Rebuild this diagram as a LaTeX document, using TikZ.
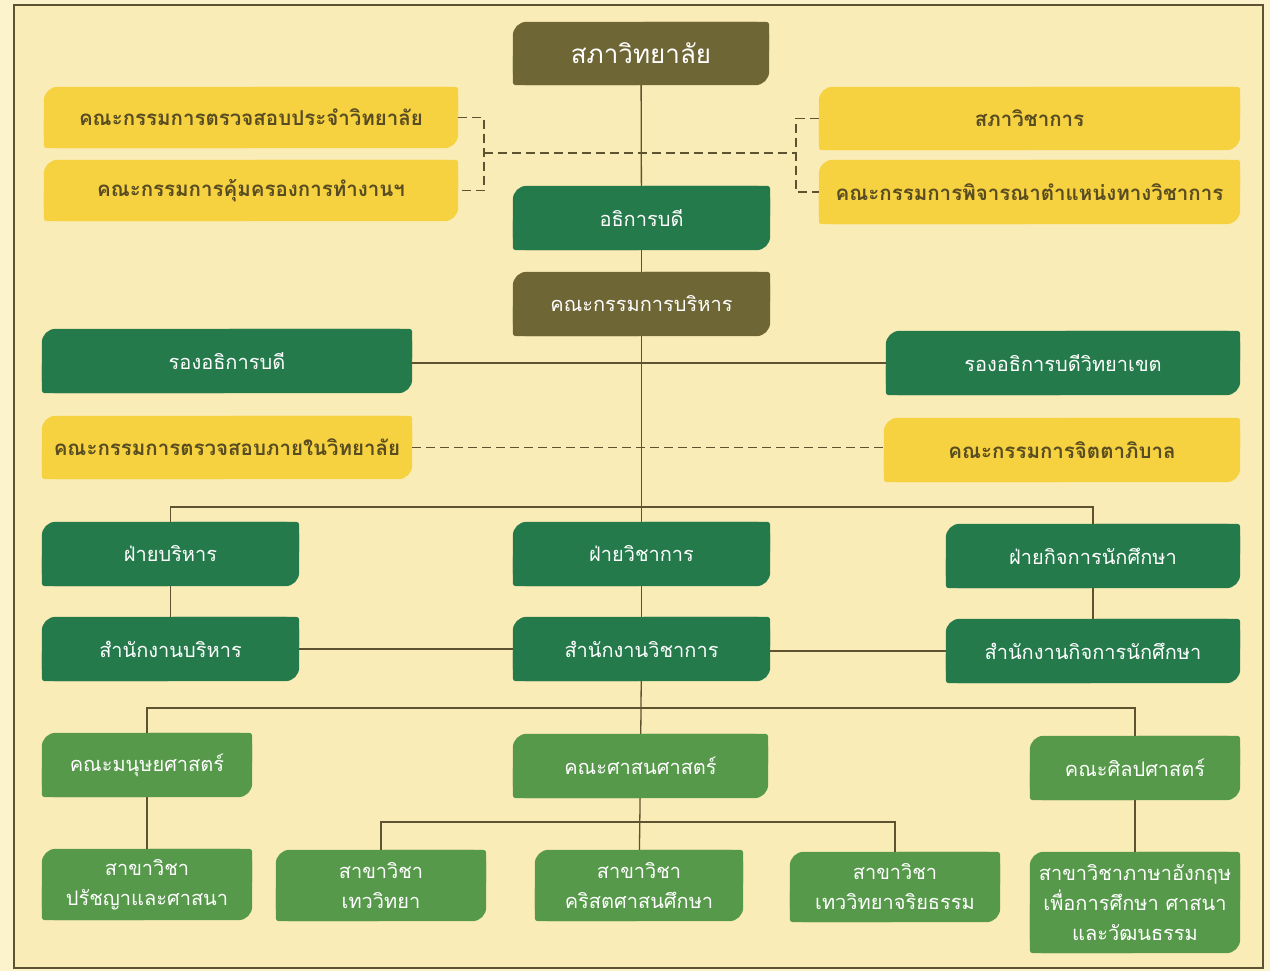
\documentclass[tikz,border=0pt]{standalone}
\usepackage{fontspec}
\newfontfamily\thai[Script=Thai]{Loma}
\usetikzlibrary{backgrounds}

\definecolor{paper}{RGB}{252,243,204}
\definecolor{cream}{RGB}{250,236,182}
\definecolor{frame}{RGB}{94,83,48}
\definecolor{olivebox}{RGB}{111,102,54}
\definecolor{darkgreen}{RGB}{36,122,75}
\definecolor{lightgreen}{RGB}{86,153,74}
\definecolor{yellowbox}{RGB}{246,209,64}
\definecolor{yellowtext}{RGB}{88,76,34}

\tikzset{
  box/.style={inner sep=0pt, minimum height=63pt, align=center, text=white,
    font=\thai\fontsize{20}{30}\selectfont},
  ybox/.style={box, text=yellowtext, font=\thai\bfseries\fontsize{20.5}{24}\selectfont},
  link/.style={draw=frame, line width=1.3pt},
  dlink/.style={link, line width=1.6pt, dash pattern=on 9pt off 5pt}
}

\newcommand\leaf[2]{%
  \fill[#2, rounded corners=14pt] (#1.south west) rectangle (#1.north east);
  \fill[#2, rounded corners=3pt] (#1.south west) rectangle (#1.center);
  \fill[#2, rounded corners=3pt] (#1.north east) rectangle (#1.center);}

\begin{document}
\begin{tikzpicture}[x=1pt,y=-1pt]
  \useasboundingbox (0,0) rectangle (1270,971);

  \node[box, minimum width=256pt, font=\thai\fontsize{26}{30}\selectfont] (council) at (641,53.5) {สภาวิทยาลัย};
  \node[ybox, minimum width=414pt, minimum height=61pt] (audit) at (251,117.5) {คณะกรรมการตรวจสอบประจำวิทยาลัย};
  \node[ybox, minimum width=414pt, minimum height=61pt] (protect) at (251,190.5) {คณะกรรมการคุ้มครองการทำงานฯ};
  \node[ybox, minimum width=421pt] (acadcouncil) at (1029.5,118.5) {สภาวิชาการ};
  \node[ybox, minimum width=421pt, minimum height=64pt] (rank) at (1029.5,192) {คณะกรรมการพิจารณาตำแหน่งทางวิชาการ};
  \node[box, minimum width=257pt, minimum height=64pt] (president) at (641.5,218) {อธิการบดี};
  \node[box, minimum width=257pt, minimum height=64pt] (exec) at (641.5,304) {คณะกรรมการบริหาร};

  \node[box, minimum width=370pt, minimum height=64pt] (vp) at (227,361) {รองอธิการบดี};
  \node[box, minimum width=354pt, minimum height=64pt] (vpcampus) at (1063,363) {รองอธิการบดีวิทยาเขต};
  \node[ybox, minimum width=370pt] (inaudit) at (227,447.5) {คณะกรรมการตรวจสอบภายในวิทยาลัย};
  \node[ybox, minimum width=356pt, minimum height=64pt] (pastoral) at (1062,450) {คณะกรรมการจิตตาภิบาล};

  \node[box, minimum width=257pt, minimum height=64pt] (admindiv) at (170.5,554) {ฝ่ายบริหาร};
  \node[box, minimum width=257pt, minimum height=64pt] (acaddiv) at (641.5,554) {ฝ่ายวิชาการ};
  \node[box, minimum width=294pt, minimum height=64pt] (studdiv) at (1093,556) {ฝ่ายกิจการนักศึกษา};
  \node[box, minimum width=257pt, minimum height=64pt] (adminoff) at (170.5,649) {สำนักงานบริหาร};
  \node[box, minimum width=257pt, minimum height=64pt] (acadoff) at (641.5,649) {สำนักงานวิชาการ};
  \node[box, minimum width=294pt, minimum height=64pt] (studoff) at (1093,651) {สำนักงานกิจการนักศึกษา};

  \node[box, minimum width=210pt, minimum height=64pt] (human) at (147,765) {คณะมนุษยศาสตร์};
  \node[box, minimum width=255pt, minimum height=64pt] (relig) at (640.5,766) {คณะศาสนศาสตร์};
  \node[box, minimum width=210pt, minimum height=64pt] (arts) at (1135,768) {คณะศิลปศาสตร์};
  \node[box, minimum width=210pt, minimum height=71pt] (philo) at (147,884.5) {สาขาวิชา\\ปรัชญาและศาสนา};
  \node[box, minimum width=210pt, minimum height=71pt] (theol) at (381,885.5) {สาขาวิชา\\เทววิทยา};
  \node[box, minimum width=208pt, minimum height=71pt] (christ) at (639,885.5) {สาขาวิชา\\คริสตศาสนศึกษา};
  \node[box, minimum width=210pt, minimum height=70pt] (ethics) at (895,887) {สาขาวิชา\\เทววิทยาจริยธรรม};
  \node[box, minimum width=210pt, minimum height=101pt] (english) at (1135,902.5) {สาขาวิชาภาษาอังกฤษ\\เพื่อการศึกษา ศาสนา\\และวัฒนธรรม};

  \begin{scope}[on background layer]
    \fill[paper] (0,0) rectangle (1270,971);
    \filldraw[fill=cream, draw=frame, line width=2.2pt] (14,5) rectangle (1263,968);
    \foreach \n/\c in {council/olivebox, exec/olivebox,
        audit/yellowbox, protect/yellowbox, acadcouncil/yellowbox, rank/yellowbox,
        inaudit/yellowbox, pastoral/yellowbox,
        president/darkgreen, vp/darkgreen, vpcampus/darkgreen,
        admindiv/darkgreen, acaddiv/darkgreen, studdiv/darkgreen,
        adminoff/darkgreen, acadoff/darkgreen, studoff/darkgreen,
        human/lightgreen, relig/lightgreen, arts/lightgreen, philo/lightgreen,
        theol/lightgreen, christ/lightgreen, ethics/lightgreen, english/lightgreen}
      {\leaf{\n}{\c}}
  \end{scope}

  \coordinate (lbrace) at (484,153);
  \coordinate (rbrace) at (796,153);
  \coordinate (divbus) at (641,507);
  \coordinate (facbus) at (641,708);
  \coordinate (subbus) at (641,822);

  \draw[link] (council) -- (president);
  \draw[link] (president) -- (exec);
  \draw[link] (exec) -- (acaddiv);
  \draw[link] (acaddiv) -- (acadoff);
  \draw[link] (acadoff) -- (relig);
  \draw[link] (relig) -- (christ);
  \draw[link] (vp.east |- vpcampus.west) -- (vpcampus.west);
  \draw[link] (admindiv.north) |- (divbus) -| (studdiv.north);
  \draw[link] (admindiv) -- (adminoff);
  \draw[link] (studdiv) -- (studoff);
  \draw[link] (adminoff.east) -- (acadoff.west |- adminoff.east);
  \draw[link] (acadoff.east |- studoff.west) -- (studoff.west);
  \draw[link] (human.north) |- (facbus) -| (arts.north);
  \draw[link] (human) -- (philo);
  \draw[link] (arts) -- (english);
  \draw[link] (theol.north) |- (subbus) -| (ethics.north);

  \draw[dlink] (audit.east) -| (lbrace) |- (protect.east);
  \draw[dlink] (acadcouncil.west) -| (rbrace) |- (rank.west);
  \draw[dlink] (lbrace) -- (rbrace);
  \draw[dlink] (inaudit.east) -- (inaudit.east -| pastoral.west);
\end{tikzpicture}
\end{document}
